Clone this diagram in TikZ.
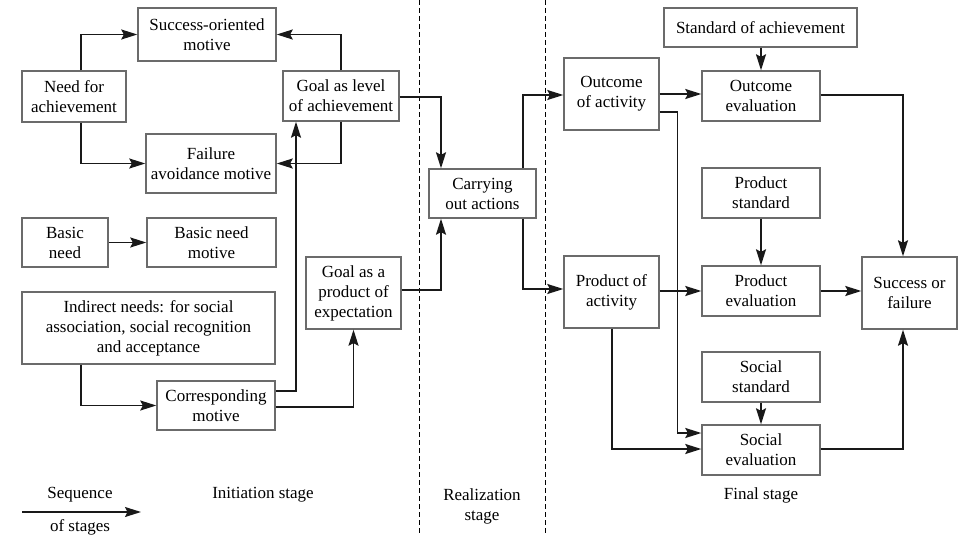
\documentclass[tikz,border=0pt]{standalone}
\usepackage{fontspec}
\setmainfont{Liberation Serif}
\usetikzlibrary{arrows.meta,shadows}
\begin{document}
\begin{tikzpicture}[x=1pt,y=-1pt,
  box/.style={draw=black!58, line width=1.4pt, fill=white, align=center,
    inner sep=2pt, font=\fontsize{17}{20}\selectfont,
    drop shadow={shadow xshift=1pt, shadow yshift=-1pt, fill=black!35, opacity=0.6}},
  arr/.style={-{Stealth[length=16pt,width=10pt,inset=2.5pt]}, line width=1.4pt, black!90},
  lbl/.style={font=\fontsize{17}{20}\selectfont, align=center},
  stage/.style={dashed, dash pattern=on 5pt off 3pt, line width=1pt}]
\useasboundingbox (0,0) rectangle (964,535);

% stage separators
\draw[stage] (419,0) -- (419,535);
\draw[stage] (545,0) -- (545,535);

% initiation stage
\node[box, minimum width=138, minimum height=53] (succ) at (207,34.5) {Success-oriented\\motive};
\node[box, minimum width=104, minimum height=51] (need) at (74,96.5) {Need for\\achievement};
\node[box, minimum width=116, minimum height=50] (goallev) at (341,96) {Goal as level\\of achievement};
\node[box, minimum width=130, minimum height=59] (fail) at (211,163.5) {Failure\\avoidance motive};
\node[box, minimum width=86, minimum height=49] (basic) at (65,242.5) {Basic\\need};
\node[box, minimum width=129, minimum height=49] (basicm) at (211.5,242.5) {Basic need\\motive};
\node[box, minimum width=253, minimum height=72] (indirect) at (148.5,328) {Indirect needs: for social\\association, social recognition\\and acceptance};
\node[box, minimum width=118, minimum height=49] (corr) at (216,405.5) {Corresponding\\motive};
\node[box, minimum width=95, minimum height=72] (goalprod) at (353.5,293) {Goal as a\\product of\\expectation};

% realization stage
\node[box, minimum width=107, minimum height=49] (carry) at (482.5,193.5) {Carrying\\out actions};

% final stage
\node[box, minimum width=95, minimum height=72] (outact) at (611.5,94) {Outcome\\of activity};
\node[box, minimum width=95, minimum height=72] (prodact) at (611.5,292) {Product of\\activity};
\node[box, minimum width=193, minimum height=39] (stdach) at (760.5,27.5) {Standard of achievement};
\node[box, minimum width=118, minimum height=50] (outeval) at (761,96) {Outcome\\evaluation};
\node[box, minimum width=118, minimum height=50] (prodstd) at (761,193) {Product\\standard};
\node[box, minimum width=118, minimum height=50] (prodeval) at (761,291) {Product\\evaluation};
\node[box, minimum width=118, minimum height=50] (socstd) at (761,377) {Social\\standard};
\node[box, minimum width=118, minimum height=50] (soceval) at (761,450) {Social\\evaluation};
\node[box, minimum width=95, minimum height=72] (success) at (909.5,293) {Success or\\failure};

% helper points for bends
\coordinate (c1) at (296,391);
\coordinate (c2) at (353,407);

% connectors: initiation stage
\draw[arr] ([xshift=7pt]need.north) |- (succ.west);
\draw[arr] ([xshift=7pt]need.south) |- (fail.west);
\draw[arr] (goallev.north) |- (succ.east);
\draw[arr] (goallev.south) |- (fail.east);
\draw[arr] (basic) -- (basicm);
\draw[arr] ([xshift=-67.5pt]indirect.south) |- (corr.west);
\draw[arr] (corr.east |- c1) -- (c1) -- (c1 |- goallev.south);
\draw[arr] (corr.east |- c2) -| (goalprod.south);

% connectors: into and out of the realization stage
\draw[arr] ([yshift=-1pt]goallev.east) -| ([xshift=-41.5pt]carry.north);
\draw[arr] ([yshift=3pt]goalprod.east) -| ([xshift=-41.5pt]carry.south);
\draw[arr] ([xshift=40.5pt]carry.north) |- ([yshift=-1pt]outact.west);
\draw[arr] ([xshift=40.5pt]carry.south) |- ([yshift=3pt]prodact.west);

% connectors: final stage
\draw[arr] (stdach.south -| outeval.north) -- (outeval.north);
\draw[arr] (outact.east) -- (outact.east -| outeval.west);
\draw[arr] ([yshift=-18pt]outact.east) -- ++(18,0) |- ([yshift=17pt]soceval.west);
\draw[arr] ([xshift=0.5pt]prodact.south) |- ([yshift=1pt]soceval.west);
\draw[arr] (prodstd.south) -- (prodeval.north);
\draw[arr] (prodact.east |- prodeval.west) -- (prodeval.west);
\draw[arr] (prodeval.east) -- (prodeval.east -| success.west);
\draw[arr] (socstd.south) -- (soceval.north);
\draw[arr] ([yshift=1pt]outeval.east) -| ([xshift=-6.5pt]success.north);
\draw[arr] ([yshift=1pt]soceval.east) -| ([xshift=-6.5pt]success.south);

% legend and stage names
\coordinate (legA) at (22,512);
\coordinate (legB) at (141,512);
\draw[arr] (legA) -- (legB);
\node[lbl] (seq) at (80,495) {Sequence};
\node[lbl] (ofst) at (80,527) {of stages};
\node[lbl] (init) at (263,495) {Initiation stage};
\node[lbl] (real) at (482,506) {Realization\\stage};
\node[lbl] (fin) at (761,495) {Final stage};
\end{tikzpicture}
\end{document}
